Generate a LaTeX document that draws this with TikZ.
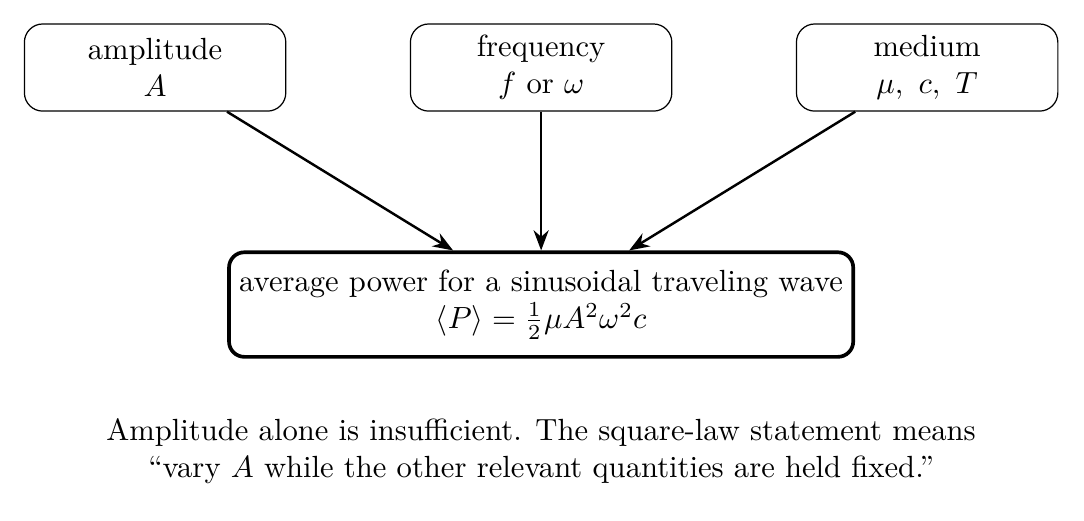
\documentclass[tikz,border=0pt]{standalone}
\usetikzlibrary{arrows.meta}
\begin{document}
\begin{tikzpicture}[>=Stealth,
	inbox/.style={draw, rounded corners=6pt, minimum width=3cm, minimum height=1cm, align=center},
	powerbox/.style={draw, very thick, rounded corners=5pt, minimum height=1.2cm, align=center}]
				\useasboundingbox (-6.21,0.775) rectangle (6.23,-5.195);
				\node[inbox] (amp) at (-4.43,0) {amplitude\\$A$};
				\node[inbox] (freq) at (0,0) {frequency\\$f$ or $\omega$};
				\node[inbox] (med) at (4.43,0) {medium\\$\mu,\ c,\ T$};
				\node[powerbox] (power) at (0,-2.72) {average power for a sinusoidal traveling wave\\$\langle P\rangle=\frac{1}{2}\mu A^2\omega^2c$};
				\node[align=center] (note) at (0,-4.40) {Amplitude alone is insufficient. The square-law statement means\\``vary $A$ while the other relevant quantities are held fixed.''};
				\foreach \x in {amp, freq, med}{
				\draw[->, thick] (\x)--(power);
				}
			\end{tikzpicture}
\end{document}
